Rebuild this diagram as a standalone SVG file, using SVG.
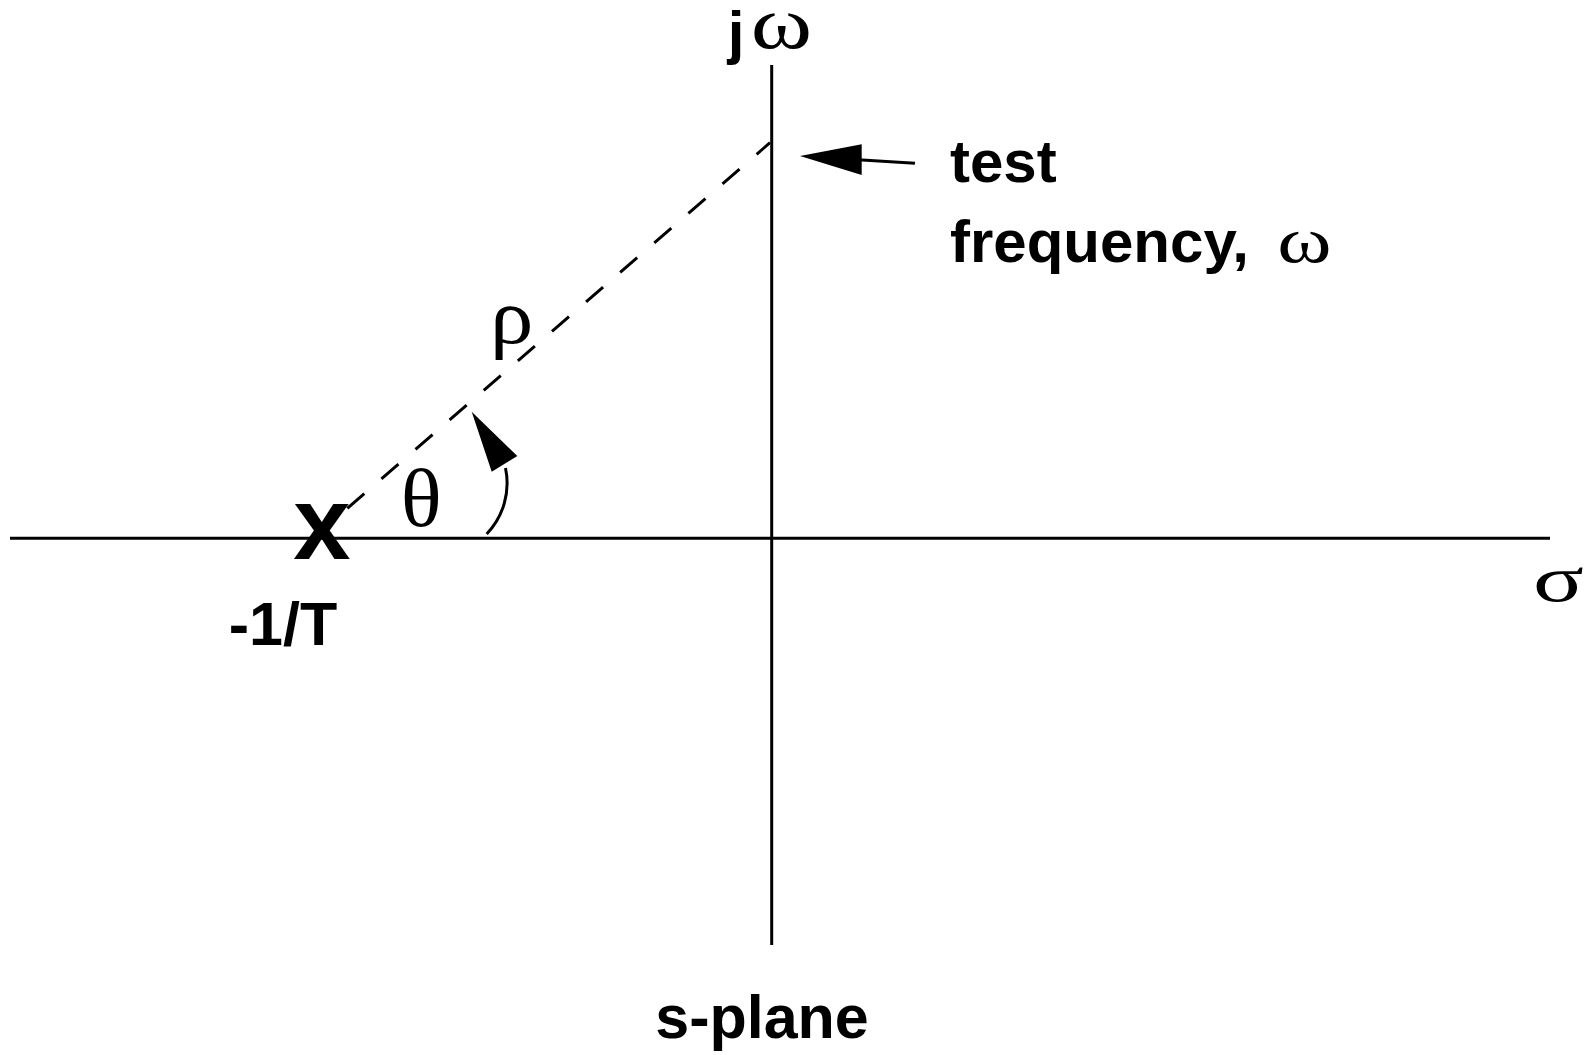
<svg xmlns="http://www.w3.org/2000/svg" width="1593" height="1055" viewBox="0 0 1593 1055">
<style>
.sans{font-family:"Liberation Sans",Arial,sans-serif;font-weight:bold;font-size:60px;fill:#000}
.greek{font-family:"Liberation Serif","Times New Roman",serif;fill:#000}
.ln{stroke:#000;stroke-width:3;fill:none}
</style>
<rect width="1593" height="1055" fill="#fff"/>
<g id="connectors">
<line class="ln" x1="10" y1="538.3" x2="1550" y2="538.3"/>
<line class="ln" x1="771.7" y1="65" x2="771.7" y2="945"/>
<line class="ln" x1="347.3" y1="508.3" x2="770" y2="142.7" stroke-dasharray="22.5 22.6"/>
<path class="ln" d="M486.7 534 A73.5 73.5 0 0 0 505.5 468"/>
<polygon points="471.7,411.7 491.7,471.7 517.3,456" fill="#000"/>
<line class="ln" x1="915" y1="163.3" x2="858" y2="159.7"/>
<polygon points="800,156 861.7,144.3 861.7,175" fill="#000"/>
</g>
<g id="axis-imag"><text class="sans" x="736" y="53" text-anchor="middle">j</text><text class="greek" text-anchor="middle" font-size="74" transform="translate(781.5 48) scale(1.26 1)">ω</text></g>
<g id="axis-real"><text class="greek" text-anchor="middle" font-size="66" transform="translate(1558.5 601) scale(1.43 1)">σ</text></g>
<g id="pole"><text class="sans" x="322" y="559" text-anchor="middle" style="font-size:103px">x</text><text class="sans" x="283" y="645" text-anchor="middle" style="font-size:61px">-1/T</text></g>
<g id="theta"><text class="greek" text-anchor="middle" font-size="83" transform="translate(421.3 526) scale(1.03 1)">θ</text></g>
<g id="rho"><text class="greek" text-anchor="middle" font-size="79" transform="translate(511.7 343) scale(1.1 1)">ρ</text></g>
<g id="test-label"><text class="sans" x="950" y="182">test</text><text class="sans" x="950" y="262">frequency,</text><text class="greek" text-anchor="middle" font-size="66" transform="translate(1304.5 262) scale(1.25 1)">ω</text></g>
<g id="s-plane"><text class="sans" x="762" y="1038" text-anchor="middle" style="font-size:61px">s-plane</text></g>
</svg>
